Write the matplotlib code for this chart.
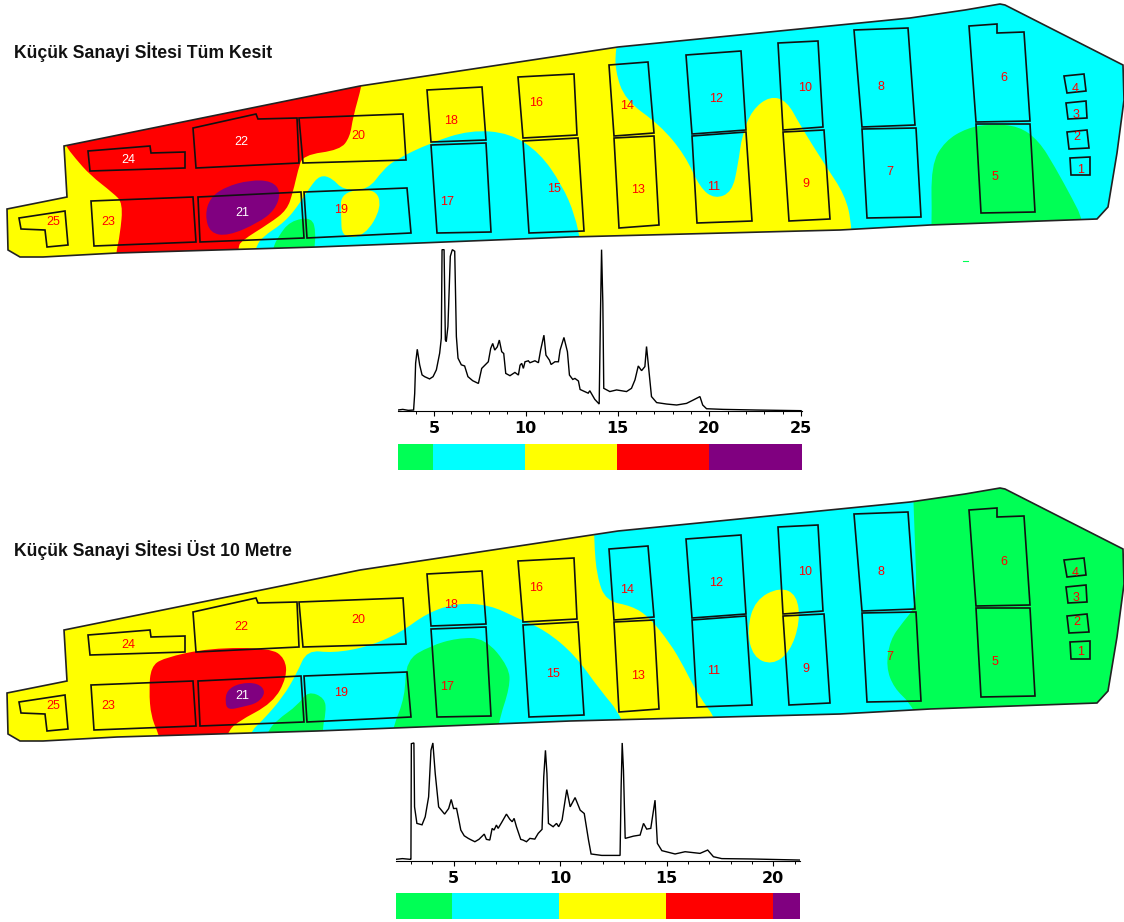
import matplotlib
matplotlib.use("Agg")
import matplotlib.pyplot as plt
from matplotlib.path import Path
from matplotlib.patches import PathPatch, Polygon

W = 1124
H = 922
plt.rcParams['font.family'] = ['Liberation Sans', 'DejaVu Sans']

YELLOW = "#FFFF00"
CYAN = "#00FFFF"
RED = "#FF0000"
PURPLE = "#800080"
GREEN = "#00FF55"

title_top = "Küçük Sanayi Sİtesi Tüm Kesit"
title_bottom = "Küçük Sanayi Sİtesi Üst 10 Metre"
bottom_dy = 484

# site boundary, traced in picture pixels
outline = [(7, 209), (67, 197), (64, 146), (360, 86), (618, 47), (910, 18), (965, 10), (1000, 4), (1005, 5),
           (1123, 65), (1124, 100), (1117, 153), (1108, 207), (1097, 219), (930, 225), (840, 230), (570, 237),
           (420, 243), (317, 247), (117, 253), (43, 257), (20, 257), (8, 250)]

# parcels, number -> corners
blocks = {
    1: [(1070, 158), (1090, 157), (1090, 175), (1071, 175)],
    2: [(1067, 132), (1087, 130), (1089, 148), (1069, 149)],
    3: [(1066, 103), (1086, 101), (1087, 118), (1068, 119)],
    4: [(1064, 76), (1084, 74), (1086, 91), (1067, 93)],
    5: [(976, 124), (1030, 124), (1035, 212), (981, 213)],
    6: [(969, 26), (997, 24), (997, 33), (1024, 32), (1030, 121), (976, 122)],
    7: [(862, 129), (916, 128), (921, 217), (867, 218)],
    8: [(854, 30), (908, 28), (915, 125), (862, 127)],
    9: [(783, 132), (824, 130), (830, 219), (789, 221)],
    10: [(778, 43), (818, 41), (823, 127), (783, 130)],
    11: [(692, 136), (746, 132), (752, 221), (697, 223)],
    12: [(686, 55), (741, 51), (746, 130), (692, 134)],
    13: [(614, 138), (654, 136), (659, 225), (619, 228)],
    14: [(609, 65), (648, 62), (654, 133), (614, 136)],
    15: [(523, 141), (578, 138), (584, 231), (529, 233)],
    16: [(518, 77), (574, 74), (577, 135), (523, 138)],
    17: [(431, 145), (486, 143), (491, 232), (437, 233)],
    18: [(427, 90), (482, 87), (486, 140), (431, 142)],
    19: [(304, 192), (407, 188), (411, 233), (307, 238)],
    20: [(299, 118), (403, 114), (406, 160), (303, 163)],
    21: [(198, 197), (301, 192), (304, 238), (200, 242)],
    22: [(193, 128), (256, 114), (258, 119), (297, 118), (299, 163), (196, 168)],
    23: [(91, 201), (193, 197), (196, 242), (94, 246)],
    24: [(88, 151), (150, 146), (151, 153), (185, 152), (185, 168), (90, 171)],
    25: [(19, 218), (65, 211), (68, 245), (47, 247), (45, 230), (21, 229)],
}

labels_top = {1: (1081, 170), 2: (1077, 137), 3: (1076, 115), 4: (1075, 89), 5: (995, 177), 6: (1004, 78),
              7: (890, 172), 8: (881, 87), 9: (806, 184), 10: (805, 88), 11: (714, 187), 12: (716, 99),
              13: (638, 190), 14: (627, 106), 15: (554, 189), 16: (536, 103), 17: (447, 202), 18: (451, 121),
              19: (341, 210), 20: (358, 136), 21: (242, 213), 22: (241, 142), 23: (108, 222), 24: (128, 160),
              25: (53, 222)}
labels_bottom = {1: (1081, 652), 2: (1077, 622), 3: (1076, 598), 4: (1075, 573), 5: (995, 662), 6: (1004, 562),
                 7: (890, 657), 8: (881, 572), 9: (806, 669), 10: (805, 572), 11: (714, 671), 12: (716, 583),
                 13: (638, 676), 14: (627, 590), 15: (553, 674), 16: (536, 588), 17: (447, 687), 18: (451, 605),
                 19: (341, 693), 20: (358, 620), 21: (242, 696), 22: (241, 627), 23: (108, 706), 24: (128, 645),
                 25: (53, 706)}
white_top = [21, 22, 24]
white_bottom = [21]

# coloured zones of the top map, painted in this order
zones_top = [
    (CYAN, [(620, 20), (616, 47), (615, 70), (625, 100), (660, 125), (685, 155), (700, 188), (715, 199), (732, 192),
            (738, 165), (742, 135), (752, 110), (770, 96), (787, 101), (800, 125), (825, 165), (845, 195), (852, 225),
            (855, 300), (1180, 300), (1180, -40), (620, -40)]),
    (CYAN, [(240, 300), (255, 249), (262, 237), (285, 222), (300, 203), (310, 187), (320, 175), (332, 178), (343, 190),
            (368, 190), (383, 170), (395, 160), (430, 143), (470, 130), (510, 133), (540, 153), (562, 185), (575, 215),
            (581, 245), (590, 300)]),
    (YELLOW, [(341, 215), (341, 192), (375, 188), (382, 207), (365, 236), (342, 238)]),
    (GREEN, [(268, 270), (273, 248), (278, 237), (290, 221), (312, 217), (316, 233), (314, 250), (316, 270)]),
    (GREEN, [(930, 260), (932, 223), (931, 165), (945, 141), (967, 128), (990, 124), (1019, 126), (1039, 141),
             (1055, 167), (1073, 200), (1082, 218), (1090, 260)]),
    (RED, [(55, 120), (65, 145), (75, 158), (90, 175), (113, 193), (123, 203), (120, 235), (116, 253), (112, 290),
           (236, 290), (238, 248), (241, 241), (270, 223), (287, 210), (293, 192), (298, 170), (303, 155), (340, 150),
           (350, 137), (353, 117), (362, 85), (368, 50), (60, 60)]),
    (PURPLE, [(205, 215), (210, 198), (225, 187), (250, 180), (272, 181), (281, 192), (275, 210), (258, 223),
              (228, 236), (210, 233)]),
]

# coloured zones of the bottom map
zones_bottom = [
    (CYAN, [(592, 460), (594, 542), (597, 577), (606, 601), (632, 606), (649, 617), (670, 643), (684, 667),
            (698, 695), (719, 723), (730, 780), (1180, 780), (1180, 440)]),
    (GREEN, [(912, 440), (913, 491), (915, 542), (917, 605), (903, 622), (890, 640), (886, 667), (894, 688),
             (910, 703), (918, 720), (925, 780), (1180, 780), (1180, 440)]),
    (CYAN, [(235, 780), (249, 733), (263, 720), (283, 697), (297, 673), (307, 650), (333, 653), (367, 647), (400, 633),
            (427, 613), (457, 603), (490, 605), (517, 618), (545, 630), (575, 655), (600, 690), (622, 716), (645, 780)]),
    (YELLOW, [(747, 630), (755, 600), (780, 587), (797, 595), (800, 622), (790, 652), (772, 665), (753, 657)]),
    (GREEN, [(380, 780), (393, 727), (405, 697), (406, 660), (430, 646), (457, 638), (485, 638), (509, 667),
             (510, 687), (498, 723), (490, 780)]),
    (GREEN, [(255, 770), (267, 732), (277, 720), (298, 705), (308, 691), (325, 698), (326, 713), (322, 730), (325, 770)]),
    (RED, [(151, 667), (163, 658), (210, 648), (270, 648), (285, 658), (287, 677), (273, 703), (237, 722), (227, 733),
           (215, 770), (165, 770), (160, 737), (151, 717), (149, 690)]),
    (PURPLE, [(225, 702), (227, 690), (240, 683), (258, 683), (266, 692), (258, 703), (242, 707), (228, 710)]),
]

# grain size curves: x in tick units, y as percent of the plot height
top_x = [3.04, 3.3, 3.6, 3.89, 3.95, 4.0, 4.09, 4.22, 4.35, 4.49, 4.76, 4.95, 5.13, 5.31, 5.40, 5.44, 5.55, 5.62, 5.67,
         5.76, 5.89, 6.0, 6.13, 6.22, 6.31, 6.49, 6.67, 6.85, 7.11, 7.42, 7.6, 7.96, 8.09, 8.2, 8.31, 8.45, 8.56, 8.69,
         8.8, 8.91, 9.14, 9.41, 9.6, 9.69, 9.78, 9.87, 9.96, 10.14, 10.23, 10.5, 10.69, 10.81, 10.99, 11.1, 11.29,
         11.38, 11.59, 11.78, 11.87, 12.08, 12.27, 12.38, 12.56, 12.68, 12.87, 12.96, 13.4, 13.49, 13.76,
         14.0, 14.07, 14.13, 14.2, 14.25, 14.58, 14.95, 15.49, 15.76, 15.95, 16.13, 16.31,
         16.49, 16.58, 16.67, 16.85, 17.13, 17.67, 18.22, 18.76, 19.13, 19.49, 19.64, 19.85, 20.76, 22.58, 25.0]
top_y = [0.6, 1.0, 0.4, 0.6, 10.9, 29.5, 38.1, 28.5, 22.3, 21.2, 19.8, 21.2, 25.4, 35.7, 45, 99.6, 99.6, 43.9, 42.9,
         52.2, 95.5, 99.6, 98.6, 46, 32.6, 28.5, 27.8, 21.2, 18.7, 17, 26.3, 30.4, 38.6, 41.7, 37.6, 39.6, 43.8, 36.6,
         35.5, 23.2, 21.8, 23.8, 22.2, 28.3, 29.4, 26.3, 30.4, 31, 29.8, 31, 29.8, 37.6, 46.8, 34.5, 31.4,
         28.7, 30.4, 30.4, 37.6, 45.4, 36.6, 22.2, 19.5, 20.1, 18.5, 13.3, 11, 12.5, 7.2,
         4.3, 59.4, 99.6, 66.6, 14, 12, 13, 12, 14, 19.2, 27.8, 24.9,
         27.4, 39.8, 29.5, 8.9, 5.2, 4.3, 3.7, 4.7, 6.8, 8.9, 3.7, 1.4, 1, 0.6, 0.2]

low_x = [2.3, 2.6, 2.97, 3.0, 3.02, 3.14, 3.17, 3.28, 3.52, 3.67, 3.83, 3.94, 4.03, 4.14, 4.3, 4.58, 4.77, 4.89, 5.0,
         5.14, 5.25, 5.34, 5.5, 5.69, 5.84, 6.0, 6.19, 6.44, 6.54, 6.7, 6.81, 6.9, 7.01, 7.09, 7.25, 7.48, 7.64, 7.75,
         7.84, 7.95, 8.15, 8.26, 8.42, 8.58, 8.81, 8.97, 9.15, 9.23, 9.31, 9.38, 9.45, 9.67, 9.83, 9.93, 10.09,
         10.31, 10.47, 10.7, 10.94, 11.13, 11.33, 11.45, 11.95, 12.81, 12.86, 12.91,
         12.97, 13.05, 13.44, 13.75, 13.91, 14.06, 14.25, 14.45, 14.56, 14.77, 15.39, 15.86, 16.56, 16.92, 17.19,
         17.58, 18.98, 21.25]
low_y = [1.4, 2.0, 1.4, 1.4, 98.6, 99.2, 45.5, 31.6, 30.4, 37.1, 53.9, 93, 99.2, 73.5, 45.5, 39.4, 44.1, 51.7, 44.1,
         44.2, 34.4, 26, 21.2, 19, 17.6, 16.2, 18.2, 22.6, 18.2, 17.6, 27.4, 26, 30.2, 27.4, 32.2, 39.4, 35, 33,
         35.8, 28.8, 18.2, 17.6, 16.2, 19, 18.4, 23.2, 26.6, 70.7, 93, 73.5, 31.6, 28.8, 31.6, 28.8, 34.4,
         60, 45.5, 53.3, 42.7, 39.9, 17.6, 5.9, 4.7, 4.7, 62.3, 99.2,
         76.2, 19, 20.9, 21.8, 31.6, 26.8, 27.4, 51.1, 14.8, 8.7, 5.9, 7.8, 6.4, 9.2, 3.6,
         2, 1.7, 0.8]

top_ticks = [5, 10, 15, 20, 25]
low_ticks = [5, 10, 15, 20]
top_edges = [3.04, 4.95, 9.95, 14.95, 19.98, 25.05]
low_edges = [2.3, 4.95, 9.95, 14.95, 19.98, 21.25]
bar_colors = [GREEN, CYAN, YELLOW, RED, PURPLE]


def px_axes(fig, left, top, right, bottom):
    return fig.add_axes([left / W, 1 - bottom / H, (right - left) / W, (bottom - top) / H])


def smooth_path(pts):
    # closed quadratic curve through the midpoints of the traced points
    n = len(pts)
    mid = [((pts[i][0] + pts[(i + 1) % n][0]) / 2, (pts[i][1] + pts[(i + 1) % n][1]) / 2) for i in range(n)]
    verts = [mid[-1]]
    codes = [Path.MOVETO]
    for i in range(n):
        verts += [pts[i], mid[i]]
        codes += [Path.CURVE3, Path.CURVE3]
    return Path(verts, codes)


def draw_map(ax, dy, zones, labels, white):
    shape = [(x, y + dy) for x, y in outline]
    base = Polygon(shape, closed=True, facecolor=YELLOW, edgecolor='none', zorder=1)
    ax.add_patch(base)
    for color, pts in zones:
        patch = PathPatch(smooth_path(pts), facecolor=color, edgecolor='none', zorder=2)
        ax.add_patch(patch)
        patch.set_clip_path(base)
    ax.add_patch(Polygon(shape, closed=True, fill=False, edgecolor='#222222', linewidth=1.2, zorder=4))
    for num, corners in blocks.items():
        pts = [(x, y + dy) for x, y in corners]
        ax.add_patch(Polygon(pts, closed=True, fill=False, edgecolor='#111111', linewidth=1.2, zorder=4))
    for num, (x, y) in labels.items():
        color = 'white' if num in white else RED
        ax.text(x, y, str(num), color=color, fontsize=9, ha='center', va='center', zorder=5)


def draw_curve(fig, xs, ys, ticks, edges, box, bar_top, bar_bottom):
    left, top, right, bottom = box
    ax = px_axes(fig, left, top, right, bottom)
    ax.plot(xs, ys, color='black', linewidth=1.0, solid_joinstyle='miter')
    ax.set_xlim(edges[0], edges[-1])
    ax.set_ylim(0, 100)
    ax.patch.set_alpha(0)
    for s in ['top', 'left', 'right']:
        ax.spines[s].set_visible(False)
    ax.spines['bottom'].set_linewidth(0.8)
    ax.set_yticks([])
    ax.set_xticks(ticks)
    ax.set_xticks(range(int(edges[0]) + 1, int(edges[-1]) + 1), minor=True)
    ax.tick_params(axis='x', which='major', length=3.5, width=0.8, labelsize=11.5, pad=3.5)
    ax.tick_params(axis='x', which='minor', length=2.5, width=0.7)
    for t in ax.get_xticklabels():
        t.set_fontweight('bold')
        t.set_fontfamily(['DejaVu Sans'])
    bar = px_axes(fig, left, bar_top, right, bar_bottom)
    for i in range(len(bar_colors)):
        bar.axvspan(edges[i], edges[i + 1], color=bar_colors[i], linewidth=0)
    bar.set_xlim(edges[0], edges[-1])
    bar.axis('off')


fig = plt.figure(figsize=(W / 100, H / 100), dpi=100)
ax = fig.add_axes([0, 0, 1, 1])
ax.set_xlim(0, W)
ax.set_ylim(H, 0)
ax.axis('off')

draw_map(ax, 0, zones_top, labels_top, white_top)
draw_map(ax, bottom_dy, zones_bottom, labels_bottom, white_bottom)

ax.text(14, 52, title_top, fontsize=12.7, fontweight='bold', ha='left', va='center', color='#111111')
ax.text(14, 550, title_bottom, fontsize=12.7, fontweight='bold', ha='left', va='center', color='#111111')
ax.plot([963, 968], [261, 261], color=GREEN, linewidth=0.8)

draw_curve(fig, top_x, top_y, top_ticks, top_edges, (398, 249, 802, 411), 444, 470)
draw_curve(fig, low_x, low_y, low_ticks, low_edges, (396, 742, 800, 861), 893, 919)

fig.savefig("out.png", dpi=100)
